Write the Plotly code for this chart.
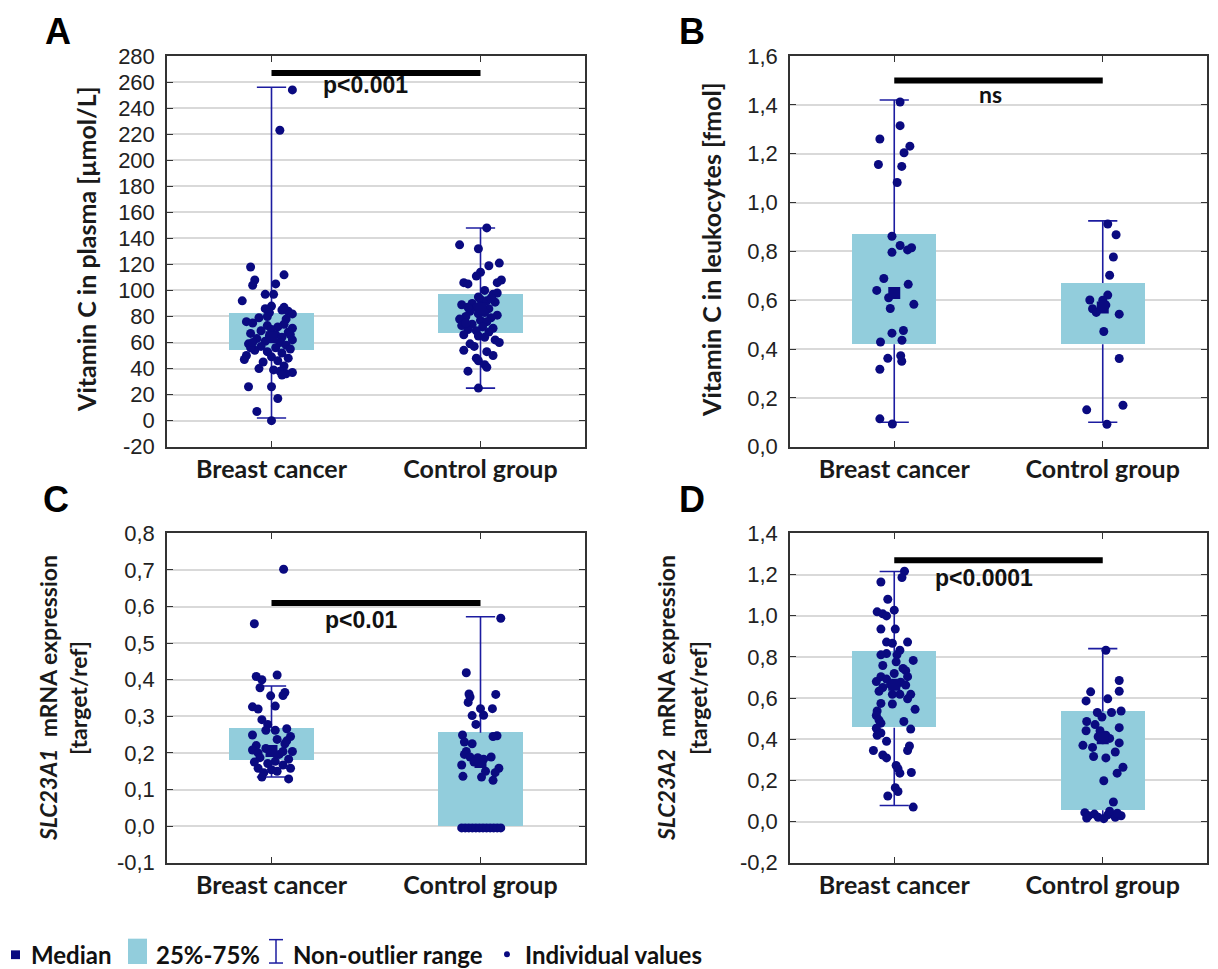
import plotly.graph_objects as go

W, H = 1218, 969
categories = ["Breast cancer", "Control group"]

# ---------------- Panel A: Vitamin C in plasma ----------------
a_stats = dict(q1=[54, 67], q3=[83, 97], med=[64, 86], wlo=[2, 25], whi=[256, 148])
a_bc_vals = [254, 223, 118, 112, 108, 104, 105, 97, 97, 92, 88, 86, 85, 84, 83, 82, 80, 78, 76, 75,
             74, 73, 72, 70, 69, 68, 67, 66, 65, 64, 63, 63, 62, 61, 60, 59, 58, 57, 56, 55,
             54, 53, 52, 50, 49, 48, 46, 45, 42, 40, 39, 38, 37, 36, 35, 26, 26, 17, 7, 0,
             56, 71, 79, 87, 66, 60, 47]
a_bc_jit = [0.10, 0.04, -0.10, 0.06, -0.08, -0.09, 0.02, -0.03, 0.01, -0.14, 0.0, -0.03, 0.05, 0.08, -0.01, 0.10, -0.02, 0.07, -0.12, -0.09,
            0.06, -0.02, 0.03, 0.0, -0.05, 0.08, -0.10, 0.02, -0.01, 0.05, -0.07, 0.0, 0.10, -0.03, 0.04, -0.11, 0.07, -0.05, 0.02, 0.09,
            -0.08, -0.02, 0.05, -0.12, 0.0, 0.08, 0.03, -0.04, 0.06, -0.06, 0.01, 0.04, 0.10, 0.07, 0.05, -0.11, 0.0, 0.03, -0.07, 0.0,
            -0.10, 0.10, -0.06, 0.06, 0.09, -0.09, -0.13]
a_cg_vals = [148, 135, 132, 121, 119, 114, 111, 108, 106, 106, 105, 100, 97, 95, 93, 92, 91, 90, 89, 88,
             87, 86, 85, 84, 83, 82, 81, 80, 79, 78, 77, 76, 74, 73, 72, 71, 70, 69, 68, 66,
             65, 64, 62, 60, 59, 57, 54, 53, 50, 48, 46, 43, 41, 38, 25, 98, 94, 87, 75]
a_cg_jit = [0.03, -0.10, -0.01, 0.09, 0.04, 0.0, -0.02, 0.10, -0.08, 0.08, -0.06, 0.02, 0.06, -0.01, 0.0, 0.03, 0.07, -0.04, -0.09, 0.0,
            -0.02, 0.04, 0.01, -0.05, 0.02, -0.01, 0.08, -0.07, 0.05, -0.10, 0.0, 0.03, -0.04, -0.09, 0.01, 0.06, -0.06, -0.02, 0.04, -0.08,
            -0.01, 0.02, 0.07, 0.09, -0.05, -0.03, -0.08, 0.03, 0.06, -0.02, -0.01, 0.02, 0.03, -0.06, -0.01, 0.08, 0.05, -0.06, -0.07]

# ---------------- Panel B: Vitamin C in leukocytes ----------------
b_stats = dict(q1=[0.42, 0.42], q3=[0.87, 0.67], med=[0.63, 0.57], wlo=[0.10, 0.10], whi=[1.42, 0.925])
b_bc_vals = [1.412, 1.315, 1.26, 1.231, 1.204, 1.156, 1.148, 1.082, 0.862, 0.824, 0.796, 0.806, 0.815, 0.689, 0.640,
             0.665, 0.61, 0.583, 0.566, 0.465, 0.476, 0.429, 0.436, 0.362, 0.373, 0.35, 0.317, 0.114, 0.093]
b_bc_jit = [0.028, 0.028, -0.069, 0.075, 0.047, -0.076, 0.036, 0.014, -0.011, 0.028, -0.011, 0.064, 0.083, -0.05, -0.084,
            0.067, -0.027, 0.094, -0.019, -0.011, 0.044, -0.066, 0.037, -0.031, 0.031, 0.036, -0.069, -0.069, -0.009]
b_cg_vals = [0.912, 0.868, 0.777, 0.702, 0.601, 0.621, 0.565, 0.55, 0.58, 0.543, 0.472, 0.361, 0.151, 0.17, 0.092, 0.60]
b_cg_jit = [0.024, 0.064, 0.051, 0.033, -0.062, 0.024, -0.049, -0.031, 0.015, 0.079, 0.005, 0.079, -0.077, 0.097, 0.02, 0.0]

# ---------------- Panel C: SLC23A1 ----------------
c_stats = dict(q1=[0.179, 0.0], q3=[0.268, 0.255], med=[0.205, 0.175], wlo=[0.134, 0.0], whi=[0.383, 0.572])
c_bc_vals = [0.702, 0.553, 0.413, 0.409, 0.40, 0.378, 0.365, 0.357, 0.356, 0.326, 0.32, 0.328, 0.291, 0.278, 0.249,
             0.262, 0.266, 0.245, 0.237, 0.225, 0.22, 0.212, 0.208, 0.204, 0.20, 0.204, 0.196, 0.187, 0.183, 0.177,
             0.175, 0.171, 0.167, 0.158, 0.154, 0.158, 0.146, 0.15, 0.134, 0.129, 0.204, 0.262, 0.233]
c_bc_jit = [0.058, -0.082, 0.027, -0.073, -0.046, -0.055, 0.064, 0.055, -0.004, -0.091, -0.064, 0.018, -0.046, -0.018, -0.091,
            0.018, 0.073, 0.091, 0.027, 0.064, -0.073, -0.027, -0.091, 0.10, -0.064, 0.0, 0.037, -0.055, 0.082, 0.018,
            -0.082, -0.018, 0.055, -0.064, 0.0, 0.091, -0.037, 0.027, -0.046, 0.082, 0.055, -0.027, 0.073]
c_cg_vals = [0.568, 0.419, 0.361, 0.353, 0.338, 0.36, 0.321, 0.321, 0.303, 0.302, 0.278, 0.249, 0.247, 0.245, 0.23,
             0.225, 0.204, 0.196, 0.189, 0.187, 0.189, 0.183, 0.167, 0.175, 0.158, 0.15, 0.146, 0.136, 0.134, 0.125,
             0.177, -0.005, -0.005, -0.005, -0.005, -0.005, -0.005, -0.005, -0.005, -0.005, -0.005, -0.005, -0.005]
c_cg_jit = [0.097, -0.068, -0.055, -0.05, -0.059, 0.073, 0.0, 0.057, 0.015, -0.04, -0.022, -0.086, 0.079, 0.06, -0.077,
            -0.04, -0.068, -0.077, -0.05, -0.013, 0.051, 0.015, -0.09, -0.031, 0.088, 0.024, 0.07, -0.084, 0.005, 0.06,
            0.002, -0.09, -0.073, -0.056, -0.039, -0.022, -0.005, 0.012, 0.029, 0.046, 0.063, 0.08, 0.097]

# ---------------- Panel D: SLC23A2 ----------------
d_stats = dict(q1=[0.456, 0.055], q3=[0.825, 0.535], med=[0.665, 0.405], wlo=[0.078, 0.022], whi=[1.215, 0.84])
d_bc_vals = [1.216, 1.186, 1.164, 1.08, 1.027, 1.019, 1.009, 0.999, 0.935, 0.935, 0.872, 0.872, 0.866, 0.832, 0.816,
             0.81, 0.783, 0.776, 0.758, 0.744, 0.733, 0.719, 0.704, 0.704, 0.692, 0.68, 0.677, 0.66, 0.663, 0.651,
             0.633, 0.618, 0.596, 0.571, 0.574, 0.545, 0.537, 0.515, 0.493, 0.478, 0.453, 0.449, 0.43, 0.419, 0.39,
             0.345, 0.345, 0.367, 0.323, 0.309, 0.272, 0.257, 0.235, 0.238, 0.164, 0.146, 0.124, 0.07, 0.618, 0.618,
             0.665, 0.81, 0.486]
d_bc_jit = [0.049, 0.037, -0.064, -0.031, 0.0, -0.082, -0.055, -0.037, -0.064, 0.005, -0.037, 0.064, -0.009, 0.027, -0.037,
            0.013, 0.091, 0.009, -0.055, 0.042, 0.055, 0.0, 0.064, -0.064, -0.037, -0.086, 0.031, 0.009, 0.055, -0.055,
            -0.073, 0.079, 0.064, -0.009, -0.064, 0.10, -0.082, -0.086, -0.073, -0.064, -0.086, 0.079, -0.064, -0.082, -0.037,
            -0.10, 0.064, 0.073, -0.055, -0.037, 0.009, 0.018, 0.027, 0.082, 0.005, 0.018, -0.031, 0.091, -0.009, 0.027,
            -0.018, -0.064, 0.046]
d_cg_vals = [0.832, 0.685, 0.633, 0.63, 0.586, 0.596, 0.537, 0.53, 0.53, 0.508, 0.486, 0.471, 0.456, 0.441, 0.441,
             0.419, 0.412, 0.404, 0.397, 0.382, 0.37, 0.36, 0.338, 0.316, 0.309, 0.264, 0.235, 0.198, 0.095, 0.043,
             0.028, 0.036, 0.021, 0.032, 0.021, 0.028, 0.017, 0.014, 0.05, 0.04]
d_cg_jit = [0.015, 0.079, 0.079, -0.058, -0.08, 0.024, 0.088, 0.042, -0.026, -0.004, -0.077, -0.037, 0.079, -0.08, -0.013,
            0.015, -0.022, 0.033, 0.0, 0.079, -0.095, -0.049, 0.06, -0.044, 0.015, 0.097, 0.069, 0.005, 0.051, -0.086,
            -0.068, -0.04, -0.022, 0.024, 0.06, 0.088, -0.077, 0.005, 0.033, 0.07]

# ---------------- axes ticks ----------------
a_ticks = list(range(-20, 281, 20))
b_ticks = [0.0, 0.2, 0.4, 0.6, 0.8, 1.0, 1.2, 1.4, 1.6]
c_ticks = [-0.1, 0.0, 0.1, 0.2, 0.3, 0.4, 0.5, 0.6, 0.7, 0.8]
d_ticks = [-0.2, 0.0, 0.2, 0.4, 0.6, 0.8, 1.0, 1.2, 1.4]

# significance: (y of bar, label, label x, label y)
sig = {
    "A": dict(y=267, text="p<0.001", tx=0.45, ty=258, font="Liberation Sans"),
    "B": dict(y=1.5, text="ns", tx=0.46, ty=1.445, font="Lato"),
    "C": dict(y=0.61, text="p<0.01", tx=0.43, ty=0.563, font="Liberation Sans"),
    "D": dict(y=1.27, text="p<0.0001", tx=0.43, ty=1.183, font="Liberation Sans"),
}

NAVY = "#0a0a80"
BOXC = "#92cddc"
GRID = "#d9d9d9"
FRAME = "#333333"
WHISK = "#1c1ca0"

fig = go.Figure()

# panel frames in pixels (left, right, top, bottom)
px = {
    "A": (159, 577, 37, 438),
    "B": (782, 1199, 37, 438),
    "C": (159, 577, 527, 865),
    "D": (782, 1199, 527, 865),
}
axn = {"A": ("x", "y"), "B": ("x2", "y2"), "C": ("x3", "y3"), "D": ("x4", "y4")}

panels = {
    "A": (a_stats, [(a_bc_vals, a_bc_jit), (a_cg_vals, a_cg_jit)], a_ticks, [-20, 280],
          lambda v: f"{v:d}"),
    "B": (b_stats, [(b_bc_vals, b_bc_jit), (b_cg_vals, b_cg_jit)], b_ticks, [0, 1.6],
          lambda v: f"{v:.1f}".replace(".", ",")),
    "C": (c_stats, [(c_bc_vals, c_bc_jit), (c_cg_vals, c_cg_jit)], c_ticks, [-0.1, 0.8],
          lambda v: f"{v:.1f}".replace(".", ",")),
    "D": (d_stats, [(d_bc_vals, d_bc_jit), (d_cg_vals, d_cg_jit)], d_ticks, [-0.2, 1.4],
          lambda v: f"{v:.1f}".replace(".", ",")),
}

cap = 0.07
for key, (st, pts, ticks, yr, fmt) in panels.items():
    xa, ya = axn[key]
    wx, wy = [], []
    for i in range(2):
        wx += [i, i, None, i, i, None, i - cap, i + cap, None, i - cap, i + cap, None]
        wy += [st["whi"][i], st["q3"][i], None, st["q1"][i], st["wlo"][i], None,
               st["whi"][i], st["whi"][i], None, st["wlo"][i], st["wlo"][i], None]
    fig.add_trace(go.Scatter(x=wx, y=wy, mode="lines", line=dict(color=WHISK, width=1.6),
                             xaxis=xa, yaxis=ya, showlegend=False, hoverinfo="skip"))
    fig.add_trace(go.Bar(x=[0, 1], y=[st["q3"][i] - st["q1"][i] for i in range(2)], base=st["q1"],
                         width=0.405, marker=dict(color=BOXC, line=dict(width=0)),
                         xaxis=xa, yaxis=ya, showlegend=False, hoverinfo="skip"))
    for i, (vals, jit) in enumerate(pts):
        fig.add_trace(go.Scatter(x=[i + j for j in jit], y=vals, mode="markers",
                                 marker=dict(color=NAVY, size=9, symbol="circle"),
                                 xaxis=xa, yaxis=ya, showlegend=False, hoverinfo="skip"))
    fig.add_trace(go.Scatter(x=[0, 1], y=st["med"], mode="markers",
                             marker=dict(color=NAVY, size=12, symbol="square"),
                             xaxis=xa, yaxis=ya, showlegend=False, hoverinfo="skip"))
    s = sig[key]
    fig.add_shape(type="line", x0=0, x1=1, y0=s["y"], y1=s["y"], xref=xa, yref=ya,
                  line=dict(color="black", width=6))
    fig.add_annotation(x=s["tx"], y=s["ty"], xref=xa, yref=ya, text=f"<b>{s['text']}</b>",
                       showarrow=False, font=dict(family=s["font"], size=23, color="#111"),
                       xanchor="center", yanchor="middle")

    l, r, t, b = px[key]
    xname = "xaxis" if xa == "x" else "xaxis" + xa[1:]
    yname = "yaxis" if ya == "y" else "yaxis" + ya[1:]
    fig.update_layout(**{
        xname: dict(domain=[l / W, r / W], range=[-0.5, 1.5], anchor=ya,
                    tickvals=[0, 1], ticktext=[f"<b>{c}</b>" for c in categories],
                    tickfont=dict(family="Lato, Open Sans", size=25, color="#1a1a1a"),
                    showgrid=False, zeroline=False, showline=True, linecolor=FRAME, linewidth=1.5,
                    mirror="ticks", ticks="inside", ticklen=6, tickcolor=FRAME),
        yname: dict(domain=[1 - b / H, 1 - t / H], range=yr, anchor=xa,
                    tickvals=ticks, ticktext=[fmt(v) for v in ticks],
                    tickfont=dict(family="Liberation Sans Narrow, Arial Narrow, Liberation Sans", size=22, color="#222"),
                    ticklabelstandoff=6,
                    showgrid=True, gridcolor=GRID, gridwidth=1.5, zeroline=False,
                    showline=True, linecolor=FRAME, linewidth=1.5, mirror="ticks",
                    ticks="inside", ticklen=6, tickcolor=FRAME),
    })

# panel letters
for key, (xp, yp) in {"A": (35, 12), "B": (669, 12), "C": (33, 492), "D": (669, 492)}.items():
    fig.add_annotation(x=xp / W, y=1 - yp / H, xref="paper", yref="paper", text=f"<b>{key}</b>",
                       showarrow=False, font=dict(family="Liberation Sans, Arial", size=36, color="black"),
                       xanchor="left", yanchor="middle")

# y-axis titles
ytitles = [
    (78, 236, "<b>Vitamin C in plasma [µmol/L]</b>", 25),
    (703, 236, "<b>Vitamin C in leukocytes [fmol]</b>", 25),
    (40, 696, "<b><i>SLC23A1</i>  mRNA expression</b>", 23),
    (70, 696, "<b>[target/ref]</b>", 23),
    (658, 696, "<b><i>SLC23A2</i>  mRNA expression</b>", 23),
    (690, 696, "<b>[target/ref]</b>", 23),
]
for xp, yp, txt, fs in ytitles:
    fig.add_annotation(x=xp / W, y=1 - yp / H, xref="paper", yref="paper", text=txt, textangle=-90,
                       showarrow=False, font=dict(family="Lato, Open Sans", size=fs, color="#1a1a1a"),
                       xanchor="center", yanchor="middle")

# legend (drawn manually)
ly = 959
fig.add_shape(type="rect", xref="paper", yref="paper", x0=3 / W, x1=12 / W, y0=1 - (ly + 5) / H,
              y1=1 - (ly - 4) / H, fillcolor=NAVY, line=dict(width=0))
fig.add_shape(type="rect", xref="paper", yref="paper", x0=120 / W, x1=139 / W, y0=0,
              y1=1 - 943 / H, fillcolor=BOXC, line=dict(width=0))
fig.add_shape(type="line", xref="paper", yref="paper", x0=268 / W, x1=268 / W, y0=1 - 968 / H,
              y1=1 - 944 / H, line=dict(color=WHISK, width=1.5))
fig.add_shape(type="line", xref="paper", yref="paper", x0=261 / W, x1=275 / W, y0=1 - 944 / H,
              y1=1 - 944 / H, line=dict(color=WHISK, width=1.5))
fig.add_shape(type="line", xref="paper", yref="paper", x0=261 / W, x1=275 / W, y0=1 - 968 / H,
              y1=1 - 968 / H, line=dict(color=WHISK, width=1.5))
fig.add_shape(type="circle", xref="paper", yref="paper", x0=496 / W, x1=502 / W, y0=1 - (ly + 3) / H,
              y1=1 - (ly - 3) / H, fillcolor=NAVY, line=dict(width=0))
for xp, txt in [(21, "Median"), (146, "25%-75%"), (283, "Non-outlier range"), (515, "Individual values")]:
    fig.add_annotation(x=xp / W, y=1 - ly / H, xref="paper", yref="paper", text=f"<b>{txt}</b>",
                       showarrow=False, font=dict(family="Lato, Open Sans", size=24, color="#111"),
                       xanchor="left", yanchor="middle")

fig.update_layout(width=W, height=H, margin=dict(l=0, r=0, t=0, b=0),
                  paper_bgcolor="white", plot_bgcolor="white", bargap=0, showlegend=False)

fig.write_html("out.html")
